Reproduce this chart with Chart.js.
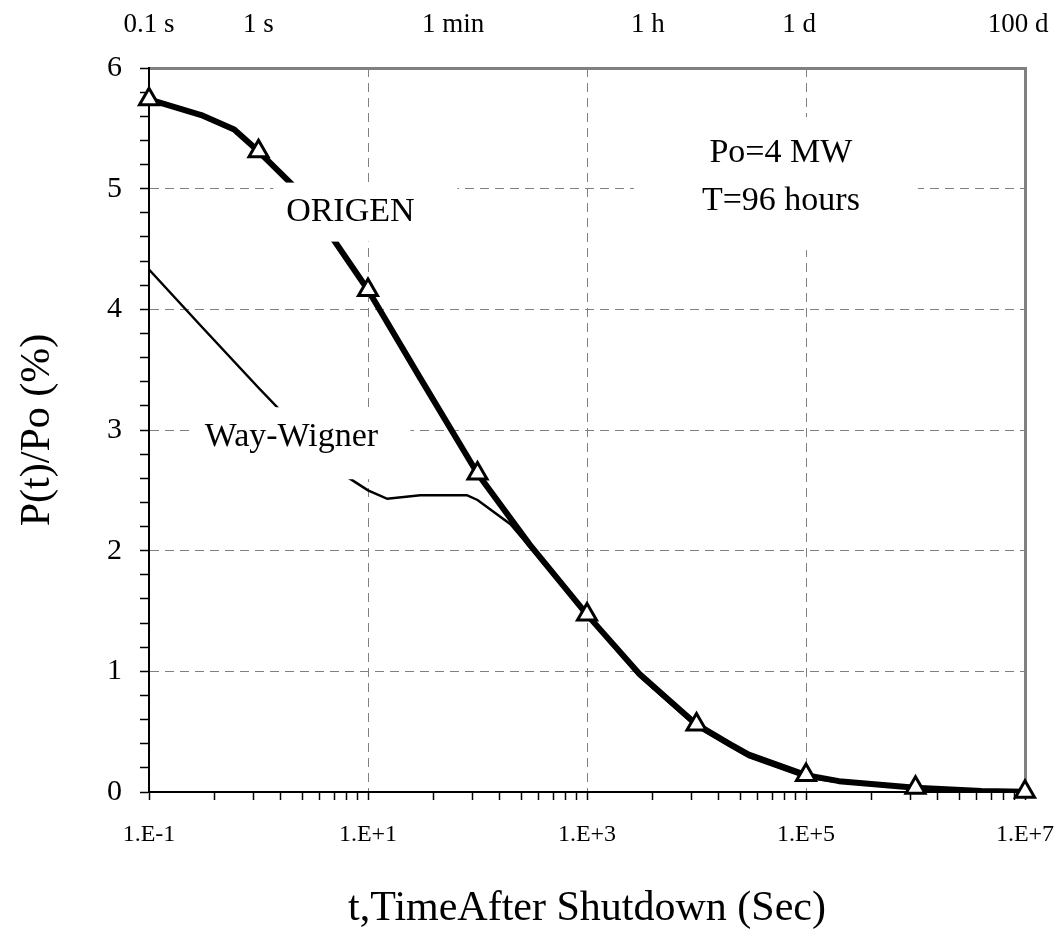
<!DOCTYPE html>
<html>
<head>
<meta charset="utf-8">
<script src="https://cdn.jsdelivr.net/npm/chart.js@4.4.1/dist/chart.umd.min.js"></script>
<style>
  html, body { margin: 0; padding: 0; background: #fff; }
</style>
</head>
<body>
<canvas id="decay" width="1057" height="936"></canvas>
<script>
// ORIGEN calculation, P(t)/Po in %
const origenTime = [0.1, 0.3, 0.6, 1, 2, 5, 10, 30, 100, 300, 1e3, 3e3, 1e4, 2e4, 3e4, 1e5, 2e5, 1e6, 4e6, 1e7];
const origenPower = [5.74, 5.61, 5.49, 5.31, 5.04, 4.56, 4.16, 3.43, 2.64, 2.05, 1.47, 0.98, 0.56, 0.40, 0.31, 0.14, 0.09, 0.035, 0.008, 0.003];

// Way-Wigner approximation
const wwTime = [0.1, 0.3, 1, 3, 6, 10, 15, 30, 80, 100, 200, 300, 1e3, 3e3, 1e4, 2e4, 3e4, 1e5, 2e5, 1e6, 4e6, 1e7];
const wwPower = [4.33, 3.86, 3.35, 2.90, 2.63, 2.50, 2.43, 2.46, 2.46, 2.42, 2.22, 2.03, 1.46, 0.96, 0.54, 0.38, 0.29, 0.12, 0.08, 0.03, 0.006, 0.002];

const markerTimes = [0.1, 1, 10, 100, 1e3, 1e4, 1e5, 1e6, 1e7];

const bottomTicks = [0.1, 10, 1e3, 1e5, 1e7];
const bottomLabels = ["1.E-1", "1.E+1", "1.E+3", "1.E+5", "1.E+7"];
const gridTimes = [10, 1e3, 1e5];

const topTicks = [0.1, 1, 60, 3600, 86400, 8640000];
const topLabels = ["0.1 s", "1 s", "1 min", "1 h", "1 d", "100 d"];

const serif = "'Liberation Serif', 'Times New Roman', serif";
const gridGray = "#808080";

const notes = [
  { lines: ["ORIGEN"], x: 6.9, y: 4.81, box: [77, 107, 29, 30] },
  { lines: ["Way-Wigner"], x: 2, y: 2.94, box: [98, 119, 30, 42] },
  { lines: ["Po=4 MW", "T=96 hours"], x: 5.9e4, y: 5.095, box: [147, 137, 60, 73] },
];

const pairs = (xs, ys) => xs.map((x, i) => ({ x: x, y: ys[i] }));
const isWhole = (v) => Math.abs(v - Math.round(v)) < 1e-6;

// excel style minor ticks: each 2-decade span split like one decade
const bottomAll = [];
bottomTicks.forEach((b, i) => {
  bottomAll.push(b);
  if (i < bottomTicks.length - 1) {
    for (let k = 2; k <= 9; k++) bottomAll.push(b * k * k);
  }
});

const noPad = (s) => {
  s.paddingLeft = 0;
  s.paddingRight = 0;
};

const notesPlugin = {
  id: "notes",
  afterDatasetsDraw(chart) {
    const { ctx, scales } = chart;
    ctx.save();
    ctx.font = "34px " + serif;
    ctx.textAlign = "center";
    ctx.textBaseline = "middle";
    notes.forEach((n) => {
      const px = scales.x.getPixelForValue(n.x);
      const py = scales.y.getPixelForValue(n.y);
      const [l, r, t, b] = n.box;
      ctx.fillStyle = "#fff";
      ctx.fillRect(px - l, py - t, l + r, t + b);
      ctx.fillStyle = "#000";
      const gap = 48;
      const y0 = py - ((n.lines.length - 1) * gap) / 2;
      n.lines.forEach((s, i) => ctx.fillText(s, px, y0 + i * gap));
    });
    ctx.restore();
  },
};

Chart.defaults.font.family = serif;
Chart.defaults.color = "#000";

new Chart(document.getElementById("decay"), {
  type: "line",
  data: {
    datasets: [
      {
        label: "ORIGEN points",
        data: markerTimes.map((t) => ({ x: t, y: origenPower[origenTime.indexOf(t)] })),
        showLine: false,
        pointStyle: "triangle",
        pointRadius: 11,
        pointBackgroundColor: "#fff",
        pointBorderColor: "#000",
        pointBorderWidth: 3,
        clip: false,
        order: 0,
      },
      {
        label: "ORIGEN",
        data: pairs(origenTime, origenPower),
        borderColor: "#000",
        borderWidth: 6,
        borderJoinStyle: "round",
        pointRadius: 0,
        tension: 0,
        order: 1,
      },
      {
        label: "Way-Wigner",
        data: pairs(wwTime, wwPower),
        borderColor: "#000",
        borderWidth: 2.5,
        pointRadius: 0,
        tension: 0,
        order: 2,
      },
    ],
  },
  options: {
    responsive: false,
    animation: false,
    layout: { padding: 0 },
    plugins: {
      legend: { display: false },
      tooltip: { enabled: false },
    },
    scales: {
      x: {
        type: "logarithmic",
        position: "bottom",
        min: 0.1,
        max: 1e7,
        afterFit: (s) => { s.height = 144; noPad(s); },
        afterBuildTicks: (s) => { s.ticks = bottomAll.map((v) => ({ value: v })); },
        ticks: {
          autoSkip: false,
          maxRotation: 0,
          padding: 20,
          font: { size: 24 },
          callback: (v) => {
            const i = bottomTicks.indexOf(v);
            return i >= 0 ? bottomLabels[i] : "";
          },
        },
        grid: {
          color: (c) => (c.tick && gridTimes.includes(c.tick.value) ? gridGray : "transparent"),
          lineWidth: 1,
          tickLength: 8,
          tickColor: "#000",
          tickWidth: 1.5,
        },
        border: { color: "#000", width: 2, dash: [9, 6] },
        title: {
          display: true,
          text: "t,TimeAfter Shutdown (Sec)",
          font: { size: 42, lineHeight: 1 },
          padding: { top: 0, bottom: 6 },
        },
      },
      x2: {
        type: "logarithmic",
        position: "top",
        min: 0.1,
        max: 1e7,
        afterFit: (s) => { s.height = 68; noPad(s); },
        afterBuildTicks: (s) => { s.ticks = topTicks.map((v) => ({ value: v })); },
        ticks: {
          autoSkip: false,
          maxRotation: 0,
          padding: 19,
          font: { size: 27 },
          callback: (v, i) => topLabels[i],
        },
        grid: { display: false },
        border: { color: gridGray, width: 3 },
      },
      y: {
        min: 0,
        max: 6,
        afterFit: (s) => { s.width = 149; },
        ticks: {
          stepSize: 0.2,
          autoSkip: false,
          padding: 18,
          font: { size: 30 },
          callback: (v) => (isWhole(v) ? String(Math.round(v)) : ""),
        },
        grid: {
          color: (c) => {
            if (!c.tick) return "transparent";
            const v = c.tick.value;
            return isWhole(v) && v > 0.5 && v < 5.5 ? gridGray : "transparent";
          },
          lineWidth: 1,
          tickLength: 9,
          tickColor: "#000",
          tickWidth: 1.5,
        },
        border: { color: "#000", width: 2, dash: [9, 6] },
        title: {
          display: true,
          text: "P(t)/Po (%)",
          font: { size: 42, lineHeight: 1 },
          padding: { top: 17, bottom: 0 },
        },
      },
      y2: {
        position: "right",
        min: 0,
        max: 6,
        afterFit: (s) => { s.width = 32; },
        ticks: { display: false },
        grid: { display: false },
        border: { color: gridGray, width: 3 },
      },
    },
  },
  plugins: [notesPlugin],
});
</script>
</body>
</html>
